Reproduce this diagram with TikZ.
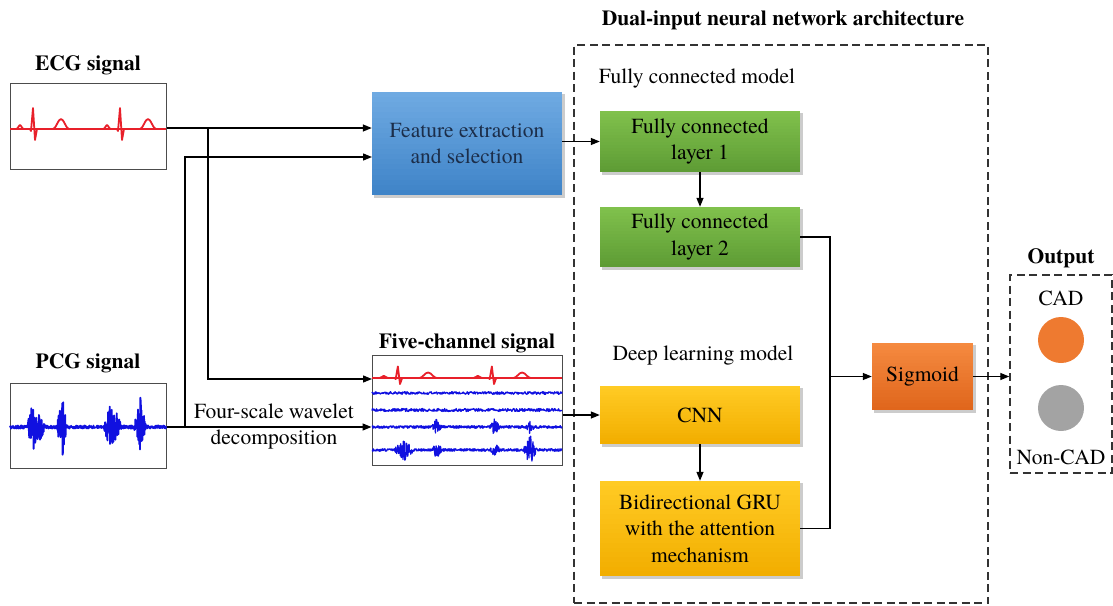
\documentclass[tikz,border=0pt]{standalone}
\usepackage{fontspec}
\newfontfamily\tnr{texgyretermes}[Extension=.otf, UprightFont=*-regular, BoldFont=*-bold, ItalicFont=*-italic, BoldItalicFont=*-bolditalic]
\usetikzlibrary{arrows.meta,calc,backgrounds}
\definecolor{fbTop}{HTML}{6FAAE2}
\definecolor{fbBot}{HTML}{3F84C8}
\definecolor{gnTop}{HTML}{80C14C}
\definecolor{gnBot}{HTML}{5E9C35}
\definecolor{ylTop}{HTML}{FFCB24}
\definecolor{ylBot}{HTML}{F2AE00}
\definecolor{orTop}{HTML}{F58A40}
\definecolor{orBot}{HTML}{E0661C}
\definecolor{orMid}{HTML}{EE7A30}
\definecolor{gyMid}{HTML}{A3A3A3}
\definecolor{navy}{HTML}{1C2E4A}
\definecolor{ecgred}{HTML}{E8202A}
\definecolor{pcgblue}{HTML}{1010E0}
\tikzset{
  txt/.style={font=\tnr\fontsize{21.5}{26.5}\selectfont, align=center, inner sep=0pt},
  ttl/.style={font=\tnr\fontsize{21.5}{26.5}\selectfont\bfseries, align=center, inner sep=0pt},
  sigbox/.style={draw=black!70, line width=1pt, inner sep=0pt},
  block/.style={txt, draw=none, minimum width=200pt},
  dbox/.style={draw=black!80, line width=1.4pt, dash pattern=on 8pt off 4.5pt, inner sep=0pt},
  arr/.style={draw=black, line width=1.3pt, -{Triangle[length=9pt,width=7pt]}},
  ln/.style={draw=black, line width=1.3pt},
  ecg/.style={draw=ecgred, line width=1.8pt, line join=round},
  pcg/.style={draw=pcgblue, line width=1.8pt, line join=round},
  ecgbeat/.pic={
    \draw[ecg] (0,0) -- (6,0) .. controls (8,0) and (9,-4) .. (10,-4)
      .. controls (11,-4) and (12,0) .. (14,0) -- (20,0)
      -- (21,2) -- (23,-21) -- (25,11) -- (27,0) -- (43,0)
      .. controls (46,0) and (48,-10) .. (51,-10)
      .. controls (54,-10) and (56,0) .. (59,0) -- (60,0);
  }
}
\newcommand\gradfill[3]{%
  \begin{pgfonlayer}{background}
  \fill[black!20] ([shift={(2.5,2.5)}]#1.north west) rectangle ([shift={(2.5,2.5)}]#1.south east);
  \foreach \i in {0,...,19}{%
    \pgfmathsetmacro\pc{100-\i*5.26}%
    \fill[#2!\pc!#3] ($(#1.north west)!\i/20!(#1.south west)$) rectangle
      ($(#1.north east)!{min(1,(\i+1.15)/20)}!(#1.south east)$);
  }
  \end{pgfonlayer}}
\begin{document}
\begin{tikzpicture}[x=1pt,y=-1pt]
\useasboundingbox (0,0) rectangle (1113,605);

% titles
\node[ttl] (t1) at (783,20) {Dual-input neural network architecture};
\node[ttl] (tecg) at (88,65) {ECG signal};
\node[ttl] (tpcg) at (88,363) {PCG signal};
\node[ttl] (tfive) at (467,343) {Five-channel signal};
\node[ttl] (tout) at (1061,258) {Output};

% dashed containers
\node[dbox, minimum width=414pt, minimum height=558pt] (arch) at (781,324) {};
\node[dbox, minimum width=102pt, minimum height=198pt] (outb) at (1061,374) {};

\node[txt] (tfc) at (697,79) {Fully connected model};
\node[txt] (tdl) at (703,355) {Deep learning model};

% signal boxes
\node[sigbox, minimum width=156pt, minimum height=86pt] (ecgb) at (88,126.5) {};
\node[sigbox, minimum width=156pt, minimum height=85pt] (pcgb) at (88,425.5) {};
\node[sigbox, minimum width=190pt, minimum height=110pt] (five) at (467,410) {};

% ECG waveform
\draw[ecg] (10,129) -- (166,129);
\pic at (10,129) {ecgbeat};
\pic at (97,129) {ecgbeat};

% PCG waveform
\pgfmathsetseed{7}
\draw[pcg] plot[domain=10:166, samples=470]
  (\x, {427 + rand*(1.6 + 26*max(0,1-abs(\x-33)/6) + 14*max(0,1-abs(\x-40)/5)
     + 33*max(0,1-abs(\x-62)/5) + 25*max(0,1-abs(\x-110)/6) + 13*max(0,1-abs(\x-117)/5)
     + 31*max(0,1-abs(\x-140)/6))});

% five channel
\draw[ecg, line width=1.4pt] (372,378) -- (562,378);
\pic[xscale=1.08, yscale=0.55] at (373,378) {ecgbeat};
\pic[xscale=1.08, yscale=0.55] at (467,378) {ecgbeat};
\draw[pcg, line width=1.3pt] plot[domain=372:562, samples=380] (\x, {393 + 1.3*rand});
\draw[pcg, line width=1.3pt] plot[domain=372:562, samples=380] (\x, {410 + 1.5*rand});
\draw[pcg, line width=1.3pt] plot[domain=372:562, samples=570]
  (\x, {427 + rand*(1.3 + 9*max(0,1-abs(\x-437)/5) + 8*max(0,1-abs(\x-495)/5) + 6*max(0,1-abs(\x-530)/4))});
\draw[pcg, line width=1.3pt] plot[domain=372:562, samples=570]
  (\x, {450 + rand*(1.3 + 10*max(0,1-abs(\x-404)/10) + 8*max(0,1-abs(\x-437)/5) + 6*max(0,1-abs(\x-495)/5) + 14*max(0,1-abs(\x-530)/7))});

% blocks
\node[block, text=navy, minimum width=190pt, minimum height=103pt] (feat) at (467,143.5) {Feature extraction\\and selection};
\node[block, minimum height=61pt] (fc1) at (700,141.5) {Fully connected\\layer 1};
\node[block, minimum height=60pt] (fc2) at (700,237) {Fully connected\\layer 2};
\node[block, minimum height=58pt] (cnn) at (700,415) {CNN};
\node[block, minimum height=95pt] (gru) at (700,528.5) {Bidirectional GRU\\with the attention\\mechanism};
\node[block, minimum width=101pt, minimum height=67pt] (sig) at (922.5,376.5) {Sigmoid};
\gradfill{feat}{fbTop}{fbBot}
\gradfill{fc1}{gnTop}{gnBot}
\gradfill{fc2}{gnTop}{gnBot}
\gradfill{cnn}{ylTop}{ylBot}
\gradfill{gru}{ylTop}{ylBot}
\gradfill{sig}{orTop}{orBot}

% output
\node[txt] (cad) at (1061,298) {CAD};
\node[circle, minimum size=46pt, inner sep=0pt, fill=orMid] (c1) at (1061,340) {};
\node[circle, minimum size=46pt, inner sep=0pt, fill=gyMid] (c2) at (1061,408) {};
\node[txt] (ncad) at (1061,457) {Non-CAD};

% connectors
\coordinate (j1) at (208,128);
\coordinate (j2) at (185,427);
\coordinate (f1) at (372,379);
\coordinate (f2) at (372,157);
\draw[arr] (ecgb.east |- j1) -- (feat.west |- j1);
\draw[arr] (j1) |- (f1);
\draw[arr] (pcgb.east |- j2) -- (five.west |- j2);
\draw[arr] (j2) |- (f2);
\node[txt] (wlab) at (274,426.5) {Four-scale wavelet\\decomposition};

\draw[arr] (feat.east |- fc1) -- (fc1.west);
\draw[arr] (fc1.south) -- (fc2.north);
\draw[arr] (five.east |- cnn) -- (cnn.west);
\draw[arr] (cnn.south) -- (gru.north);
\coordinate (j3) at (830,376.5);
\draw[ln] (fc2.east) -| (j3);
\draw[ln] (gru.east) -| (j3);
\draw[arr] (j3) -- (sig.west);
\draw[arr] (sig.east) -- (outb.west |- sig.east);
\end{tikzpicture}
\end{document}
